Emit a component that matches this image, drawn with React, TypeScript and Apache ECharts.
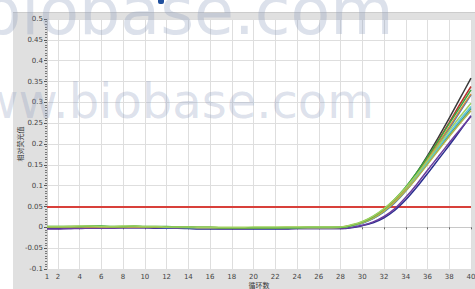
import React, { useEffect, useRef } from 'react';
import * as echarts from 'echarts';

const CYCLES = ['1','2','3','4','5','6','7','8','9','10','11','12','13','14','15','16','17','18','19','20','21','22','23','24','25','26','27','28','29','30','31','32','33','34','35','36','37','38','39','40'];

const Y_MIN = -0.1;
const Y_MAX = 0.5;
const Y_STEP = 0.05;
const THRESHOLD = 0.05;

const WELL_BLACK = [0.001,0.001,0.000,0.000,0.001,0.001,0.000,0.000,0.001,0.000,0.000,0.000,0.000,-0.001,-0.001,-0.001,-0.001,-0.002,-0.002,-0.002,-0.002,-0.002,-0.002,-0.002,-0.002,-0.002,-0.002,-0.001,0.004,0.012,0.024,0.042,0.065,0.095,0.131,0.172,0.216,0.262,0.310,0.358];
const WELL_RED = [0.000,0.000,0.001,0.001,0.001,0.000,0.000,0.001,0.001,0.000,0.000,0.000,-0.001,-0.001,-0.001,-0.001,-0.002,-0.002,-0.002,-0.002,-0.002,-0.002,-0.002,-0.002,-0.002,-0.002,-0.002,-0.001,0.004,0.011,0.023,0.040,0.063,0.092,0.127,0.167,0.209,0.252,0.296,0.338];
const WELL_GREEN = [0.002,0.002,0.002,0.002,0.003,0.003,0.002,0.002,0.003,0.002,0.002,0.002,0.001,0.001,0.000,0.000,-0.001,-0.001,-0.001,-0.001,-0.001,-0.001,-0.001,-0.001,0.000,0.000,0.000,0.000,0.005,0.013,0.026,0.044,0.068,0.097,0.131,0.169,0.208,0.249,0.289,0.330];
const WELL_BLUE = [0.000,0.000,0.000,0.001,0.001,0.001,0.000,0.000,0.000,0.000,0.000,-0.001,-0.001,-0.001,-0.002,-0.002,-0.002,-0.002,-0.002,-0.003,-0.003,-0.003,-0.002,-0.002,-0.002,-0.002,-0.002,-0.001,0.003,0.010,0.021,0.037,0.059,0.087,0.120,0.157,0.197,0.237,0.278,0.318];
const WELL_CYAN = [0.001,0.001,0.001,0.001,0.002,0.002,0.001,0.001,0.001,0.001,0.001,0.000,0.000,0.000,-0.001,-0.001,-0.001,-0.001,-0.001,-0.001,-0.001,-0.001,-0.001,-0.001,-0.001,-0.001,-0.001,0.000,0.004,0.011,0.023,0.041,0.064,0.091,0.122,0.156,0.191,0.226,0.259,0.290];
const WELL_OLIVE = [0.001,0.001,0.002,0.002,0.002,0.002,0.001,0.001,0.002,0.001,0.001,0.001,0.000,0.000,0.000,0.000,-0.001,-0.001,-0.001,-0.001,-0.001,-0.001,0.000,0.000,0.000,0.000,0.000,0.000,0.004,0.011,0.022,0.039,0.061,0.088,0.118,0.151,0.185,0.218,0.250,0.280];
const WELL_TEAL = [0.000,0.001,0.001,0.001,0.001,0.001,0.001,0.000,0.001,0.000,0.000,0.000,0.000,-0.001,-0.001,-0.001,-0.001,-0.002,-0.002,-0.002,-0.002,-0.002,-0.001,-0.001,-0.001,-0.001,-0.001,0.000,0.004,0.011,0.022,0.039,0.062,0.089,0.120,0.154,0.189,0.222,0.254,0.285];
const WELL_ORANGE = [0.001,0.001,0.001,0.001,0.001,0.001,0.001,0.001,0.001,0.001,0.000,0.000,0.000,0.000,-0.001,-0.001,-0.001,-0.001,-0.001,-0.001,-0.001,-0.001,-0.001,-0.001,-0.001,-0.001,-0.001,0.000,0.005,0.012,0.024,0.041,0.064,0.093,0.127,0.164,0.202,0.241,0.281,0.320];
const WELL_PURPLE = [-0.004,-0.004,-0.003,-0.003,-0.002,-0.002,-0.002,-0.001,-0.001,-0.001,-0.001,-0.001,-0.002,-0.002,-0.002,-0.002,-0.003,-0.003,-0.003,-0.003,-0.003,-0.003,-0.003,-0.003,-0.003,-0.003,-0.003,-0.003,0.000,0.005,0.013,0.026,0.045,0.072,0.103,0.137,0.170,0.203,0.235,0.266];
const WELL_NAVY = [-0.002,-0.003,-0.003,-0.002,-0.002,-0.001,-0.001,-0.001,-0.001,-0.001,-0.002,-0.002,-0.002,-0.003,-0.004,-0.004,-0.004,-0.004,-0.004,-0.004,-0.004,-0.004,-0.004,-0.003,-0.003,-0.003,-0.003,-0.003,-0.001,0.004,0.011,0.023,0.041,0.066,0.096,0.129,0.163,0.197,0.232,0.268];
const WELL_LIGHTGREEN = [0.002,0.002,0.002,0.003,0.003,0.002,0.002,0.003,0.003,0.002,0.002,0.001,0.001,0.001,0.000,0.000,0.000,0.000,0.000,0.001,0.001,0.001,0.001,0.001,0.001,0.001,0.001,0.001,0.006,0.014,0.027,0.045,0.068,0.095,0.126,0.160,0.196,0.232,0.266,0.298];

const WELLS = [
  { name: 'A1', data: WELL_NAVY, color: '#2b2f8f' },
  { name: 'A2', data: WELL_PURPLE, color: '#6b3d9e' },
  { name: 'A3', data: WELL_BLACK, color: '#3a3a3a' },
  { name: 'A4', data: WELL_RED, color: '#b8312f' },
  { name: 'A5', data: WELL_BLUE, color: '#3f6fc6' },
  { name: 'A6', data: WELL_TEAL, color: '#3ea08c' },
  { name: 'A7', data: WELL_CYAN, color: '#5cc2dc' },
  { name: 'A8', data: WELL_ORANGE, color: '#cf8a3a' },
  { name: 'A9', data: WELL_OLIVE, color: '#b3b548' },
  { name: 'A10', data: WELL_GREEN, color: '#3da83f' },
  { name: 'A11', data: WELL_LIGHTGREEN, color: '#9fd160' },
];

const Y_NAME = '相对荧光值';
const X_NAME = '循环数';

export default function App() {
  const ref = useRef<HTMLDivElement>(null);
  useEffect(() => {
    document.body.style.margin = '0';
    const chart = echarts.init(ref.current!, null, { renderer: 'svg' });
    const isLabel = (_i: number, v: string) => v === '1' || Number(v) % 2 === 0;
    const isEven = (_i: number, v: string) => Number(v) % 2 === 0;
    const series: any[] = WELLS.map((w, idx) => ({
      name: w.name,
      type: 'line',
      data: w.data,
      showSymbol: false,
      smooth: 0.3,
      lineStyle: { color: w.color, width: 1.5 },
      itemStyle: { color: w.color },
      z: 3 + idx,
      ...(idx === 0
        ? {
            markLine: {
              silent: true,
              symbol: 'none',
              label: { show: false },
              lineStyle: { color: '#d8403a', width: 2, type: 'solid' },
              data: [{ yAxis: THRESHOLD }],
              z: 1,
            },
          }
        : {}),
    }));
    chart.setOption({
      animation: false,
      backgroundColor: '#ffffff',
      grid: {
        left: 47,
        right: 4,
        top: 19,
        bottom: 20,
        show: true,
        backgroundColor: '#ffffff',
        borderWidth: 0,
        containLabel: false,
        outerBoundsMode: 'none',
      },
      xAxis: {
        type: 'category',
        data: CYCLES,
        boundaryGap: false,
        name: X_NAME,
        nameLocation: 'middle',
        nameGap: 12,
        nameMoveOverlap: false,
        nameTextStyle: { fontSize: 7, color: '#333', fontFamily: 'Noto Sans CJK SC' },
        axisLine: { show: true, lineStyle: { color: '#c8c8c8', width: 1 } },
        axisTick: { show: true, interval: isLabel, length: 2, lineStyle: { color: '#666' } },
        axisLabel: { interval: isLabel, fontSize: 7, color: '#444', margin: 4, fontFamily: 'DejaVu Sans' },
        splitLine: { show: true, interval: isEven, lineStyle: { color: '#dedede', width: 1 } },
      },
      yAxis: {
        type: 'value',
        min: Y_MIN,
        max: Y_MAX,
        interval: Y_STEP,
        name: Y_NAME,
        nameLocation: 'middle',
        nameGap: 24,
        nameMoveOverlap: false,
        nameTextStyle: { fontSize: 7, color: '#333', fontFamily: 'Noto Sans CJK SC' },
        axisLine: { show: true, lineStyle: { color: '#c8c8c8', width: 1 } },
        axisTick: { show: true, length: 3, lineStyle: { color: '#555' } },
        minorTick: { show: true, splitNumber: 8, length: 2, lineStyle: { color: '#777' } },
        axisLabel: { fontSize: 7, color: '#444', margin: 4, fontFamily: 'DejaVu Sans' },
        splitLine: { show: true, lineStyle: { color: '#dedede', width: 1 } },
      },
      graphic: [
        { type: 'rect', z: -10, shape: { x: 13, y: 12, width: 470, height: 290 }, style: { fill: '#e0e0e0' } },
        { type: 'rect', z: -9, shape: { x: 13, y: 12, width: 470, height: 1 }, style: { fill: '#cccccc' } },
        { type: 'rect', z: 100, shape: { x: 158, y: -3, width: 6, height: 7, r: 2 }, style: { fill: '#1f4f9e' } },
        {
          type: 'text', z: 100, x: -20, y: 11,
          style: { text: 'biobase.com', fontSize: 65, fontFamily: 'DejaVu Sans', fill: 'rgba(140,155,190,0.3)', verticalAlign: 'middle', align: 'left' },
        },
        {
          type: 'text', z: 100, x: -60, y: 101,
          style: { text: 'www.biobase.com', fontSize: 48, fontFamily: 'DejaVu Sans', fill: 'rgba(140,155,190,0.3)', verticalAlign: 'middle', align: 'left' },
        },
      ],
      series,
    });
    return () => chart.dispose();
  }, []);
  return <div ref={ref} style={{ width: 475, height: 289 }} />;
}
